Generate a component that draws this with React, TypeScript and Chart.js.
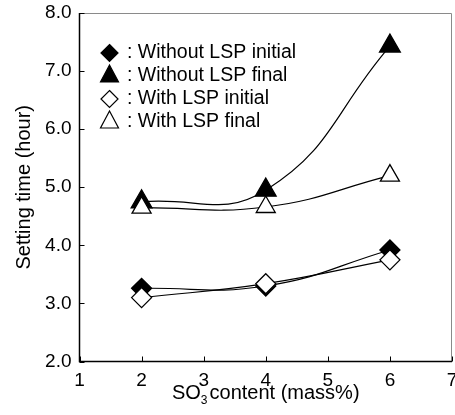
import React, { useEffect, useRef } from 'react';
import { Chart, registerables } from 'chart.js';

Chart.register(...registerables);

// ---- data ----
const xValues = [2, 4, 6];
const withoutLspInitial = [3.26, 3.3, 3.92];
const withoutLspFinal = [4.75, 4.95, 7.43];
const withLspInitial = [3.1, 3.34, 3.75];
const withLspFinal = [4.65, 4.66, 5.2];
const seriesLabels = ['Without LSP initial', 'Without LSP final', 'With LSP initial', 'With LSP final'];
const xTickValues = [1, 2, 3, 4, 5, 6, 7];
const yTickValues = [2, 3, 4, 5, 6, 7, 8];
const yTitle = 'Setting time (hour)';
const xTitleMain = 'SO';
const xTitleSub = '3';
const xTitleRest = 'content (mass%)';

const FONT = '"Liberation Sans", Arial, sans-serif';

const toPoints = (ys: number[]) => xValues.map((x, i) => ({ x, y: ys[i] }));

const legendItems = [
  { label: seriesLabels[0], shape: 'diamond', filled: true },
  { label: seriesLabels[1], shape: 'triangle', filled: true },
  { label: seriesLabels[2], shape: 'diamond', filled: false },
  { label: seriesLabels[3], shape: 'triangle', filled: false },
];

const framePlugin = {
  id: 'frame',
  afterDraw(chart: any) {
    const { ctx, chartArea } = chart;
    const { left, right, top, bottom } = chartArea;
    const xs = chart.scales.x;
    const ys = chart.scales.y;
    ctx.save();
    // top & right gray border
    ctx.strokeStyle = '#8a8a8a';
    ctx.lineWidth = 1;
    ctx.beginPath();
    ctx.moveTo(left, top + 0.5);
    ctx.lineTo(right - 0.5, top + 0.5);
    ctx.lineTo(right - 0.5, bottom);
    ctx.stroke();
    // left & bottom black axis
    ctx.strokeStyle = '#000';
    ctx.lineWidth = 1.5;
    ctx.beginPath();
    ctx.moveTo(left, top);
    ctx.lineTo(left, bottom);
    ctx.lineTo(right, bottom);
    ctx.stroke();
    // inward ticks
    ctx.lineWidth = 1;
    ctx.beginPath();
    yTickValues.forEach((v) => {
      const py = Math.round(ys.getPixelForValue(v)) + 0.5;
      ctx.moveTo(left, py);
      ctx.lineTo(left + 5, py);
    });
    xTickValues.forEach((v) => {
      const px = Math.round(xs.getPixelForValue(v)) + 0.5;
      ctx.moveTo(px, bottom);
      ctx.lineTo(px, bottom - 5);
    });
    ctx.stroke();

    // legend
    ctx.fillStyle = '#000';
    ctx.font = `19.5px ${FONT}`;
    ctx.textAlign = 'left';
    ctx.textBaseline = 'alphabetic';
    legendItems.forEach((it, i) => {
      const b = 57.5 + 23 * i;
      const cx = 109.5;
      ctx.beginPath();
      if (it.shape === 'diamond') {
        const cy = b - 4.5;
        const h = 8.5;
        ctx.moveTo(cx, cy - h);
        ctx.lineTo(cx + h, cy);
        ctx.lineTo(cx, cy + h);
        ctx.lineTo(cx - h, cy);
      } else {
        ctx.moveTo(cx, b - 15.5);
        ctx.lineTo(cx + 9, b + 1.5);
        ctx.lineTo(cx - 9, b + 1.5);
      }
      ctx.closePath();
      ctx.fillStyle = it.filled ? '#000' : '#fff';
      ctx.fill();
      ctx.strokeStyle = '#000';
      ctx.lineWidth = 1.2;
      ctx.stroke();
      ctx.fillStyle = '#000';
      ctx.fillText(': ' + it.label, 127, b);
    });

    // x title with subscript
    const mainFont = `20px ${FONT}`;
    const subFont = `12px ${FONT}`;
    ctx.font = mainFont;
    const w1 = ctx.measureText(xTitleMain).width;
    const w3 = ctx.measureText(xTitleRest).width;
    ctx.font = subFont;
    const w2 = ctx.measureText(xTitleSub).width;
    const gap = 2;
    const total = w1 + w2 + gap + w3;
    const x0 = (left + right) / 2 - total / 2;
    const base = 398.5;
    ctx.font = mainFont;
    ctx.fillText(xTitleMain, x0, base);
    ctx.font = subFont;
    ctx.fillText(xTitleSub, x0 + w1, base + 5);
    ctx.font = mainFont;
    ctx.fillText(xTitleRest, x0 + w1 + w2 + gap, base);

    // y title
    ctx.save();
    ctx.translate(24, (top + bottom) / 2);
    ctx.rotate(-Math.PI / 2);
    ctx.font = `20px ${FONT}`;
    ctx.textAlign = 'center';
    ctx.textBaseline = 'middle';
    ctx.fillText(yTitle, 0, 0);
    ctx.restore();

    ctx.restore();
  },
};

export default function App() {
  const ref = useRef<HTMLCanvasElement | null>(null);
  useEffect(() => {
    document.body.style.margin = '0';
    if (!ref.current) return;
    const lineCommon = {
      borderColor: '#000',
      borderWidth: 1.2,
      fill: false,
      tension: 0.45,
      pointBorderColor: '#000',
      pointBorderWidth: 1.3,
    };
    const chart = new Chart(ref.current, {
      type: 'line',
      data: {
        datasets: [
          {
            ...lineCommon,
            label: seriesLabels[0],
            data: toPoints(withoutLspInitial),
            pointStyle: 'rectRot',
            pointRadius: 10,
            pointBackgroundColor: '#000',
            order: 2,
          },
          {
            ...lineCommon,
            label: seriesLabels[1],
            data: toPoints(withoutLspFinal),
            pointStyle: 'triangle',
            pointRadius: 12,
            pointBackgroundColor: '#000',
            order: 3,
          },
          {
            ...lineCommon,
            label: seriesLabels[2],
            data: toPoints(withLspInitial),
            pointStyle: 'rectRot',
            pointRadius: 10,
            pointBackgroundColor: '#fff',
            order: 0,
          },
          {
            ...lineCommon,
            label: seriesLabels[3],
            data: toPoints(withLspFinal),
            pointStyle: 'triangle',
            pointRadius: 11,
            pointBackgroundColor: '#fff',
            order: 1,
          },
        ] as any,
      },
      options: {
        animation: false,
        responsive: false,
        devicePixelRatio: 1,
        layout: { autoPadding: false, padding: { top: 13, right: 3, left: 0, bottom: 0 } },
        plugins: {
          legend: { display: false },
          tooltip: { enabled: false },
          title: { display: false },
        },
        scales: {
          x: {
            type: 'linear',
            min: 1,
            max: 7,
            grid: { display: false, drawTicks: false },
            border: { display: false },
            afterBuildTicks: (s: any) => {
              s.ticks = xTickValues.map((v) => ({ value: v }));
            },
            afterFit: (s: any) => {
              s.height = 53.5;
              s.paddingLeft = 0;
              s.paddingRight = 0;
            },
            ticks: {
              padding: 8,
              color: '#000',
              font: { family: FONT, size: 19 },
              callback: (v: any) => String(v),
            },
          },
          y: {
            type: 'linear',
            min: 2,
            max: 8,
            grid: { display: false, drawTicks: false },
            border: { display: false },
            afterBuildTicks: (s: any) => {
              s.ticks = yTickValues.map((v) => ({ value: v }));
            },
            afterFit: (s: any) => {
              s.width = 79.5;
              s.paddingTop = 0;
              s.paddingBottom = 0;
            },
            ticks: {
              padding: 8,
              color: '#000',
              font: { family: FONT, size: 19 },
              callback: (v: any) => Number(v).toFixed(1),
            },
          },
        },
      } as any,
      plugins: [framePlugin],
    });
    return () => chart.destroy();
  }, []);
  return (
    <div style={{ width: 455, height: 415 }}>
      <canvas ref={ref} width={455} height={415} style={{ display: 'block' }} />
    </div>
  );
}
